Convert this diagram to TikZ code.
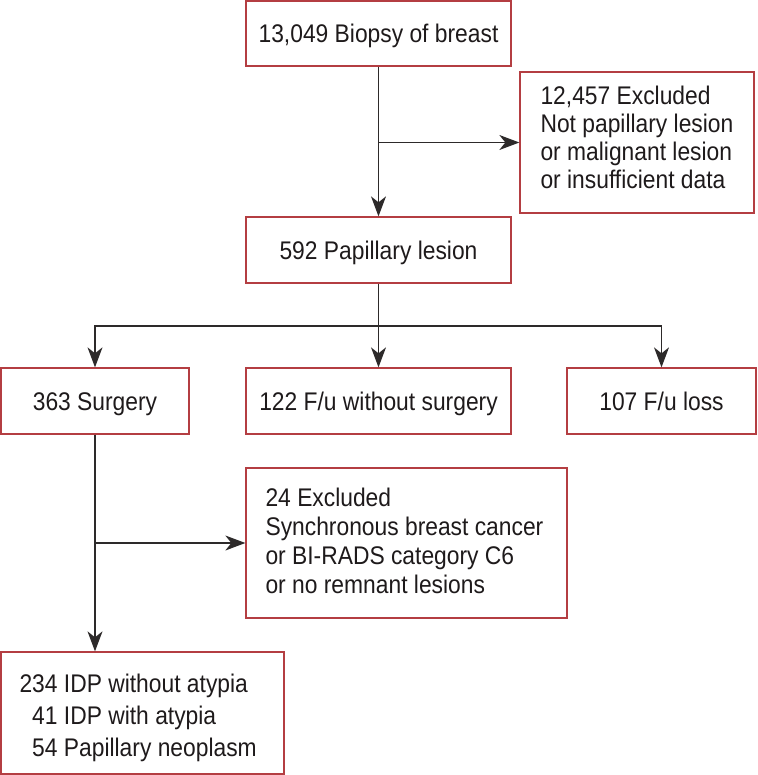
\documentclass[tikz,border=0pt]{standalone}
\usepackage{fontspec}
\setmainfont[FakeStretch=0.895]{Liberation Sans}
\usetikzlibrary{arrows.meta,calc}
\definecolor{boxred}{RGB}{180,62,66}
\definecolor{linegray}{RGB}{45,42,42}
\definecolor{txt}{RGB}{30,26,27}
\begin{document}
\begin{tikzpicture}[x=1pt,y=-1pt,
  box/.style={draw=boxred,line width=1.3pt,inner sep=0pt,text=txt,
    font=\fontsize{25.5}{29}\selectfont,text height=18.3pt,text depth=0pt},
  multi/.style={inner sep=0pt,align=left,anchor=north west,text=txt},
  conn/.style={draw=linegray,line width=1.2pt},
  arr/.style={conn,-{Stealth[length=20pt,width=15pt,inset=6pt]}}]
\useasboundingbox (0,0) rectangle (757,775);
% boxes
\node[box,minimum width=265pt,minimum height=65pt] (b1) at (378.5,33.5) {13,049 Biopsy of breast};
\node[box,minimum width=234pt,minimum height=141pt] (ex1) at (637,142.5) {};
\node[box,minimum width=265pt,minimum height=66pt] (b2) at (378.5,250) {592 Papillary lesion};
\node[box,minimum width=188pt,minimum height=66pt] (s) at (95,401) {363 Surgery};
\node[box,minimum width=265pt,minimum height=66pt] (f) at (378.5,401) {122 F/u without surgery};
\node[box,minimum width=189pt,minimum height=66pt] (l) at (661.5,401) {107 F/u loss};
\node[box,minimum width=321pt,minimum height=150pt] (ex2) at (406.5,543) {};
\node[box,minimum width=283pt,minimum height=122pt] (r) at (142.5,713) {};
% multi-line texts
\node[multi,font=\fontsize{25.5}{28}\selectfont] (ex1t) at ($(ex1.north west)+(21,14)$)
  {12,457 Excluded\\Not papillary lesion\\or malignant lesion\\or insufficient data};
\node[multi,font=\fontsize{25.5}{29.3}\selectfont] (ex2t) at ($(ex2.north west)+(20,20)$)
  {24 Excluded\\Synchronous breast cancer\\or BI-RADS category C6\\or no remnant lesions};
\node[multi,font=\fontsize{25.5}{32}\selectfont] (rt) at ($(r.north west)+(19,22)$)
  {234 IDP without atypia\\\hphantom{0}41 IDP with atypia\\\hphantom{0}54 Papillary neoplasm};
% junctions
\coordinate (j1) at (b1.south |- ex1.west);
\coordinate (j2) at (378.5,326);
\coordinate (j3) at (95,543);
% connectors
\draw[arr] (b1.south) -- (b2.north);
\draw[arr] (j1) -- (ex1.west);
\draw[arr] (b2.south) -- (f.north);
\draw[arr] (j2) -| (s.north);
\draw[arr] (j2) -| (l.north);
\draw[arr] (s.south) -- (s.south |- r.north);
\draw[arr] (j3) -- (ex2.west);
\end{tikzpicture}
\end{document}
